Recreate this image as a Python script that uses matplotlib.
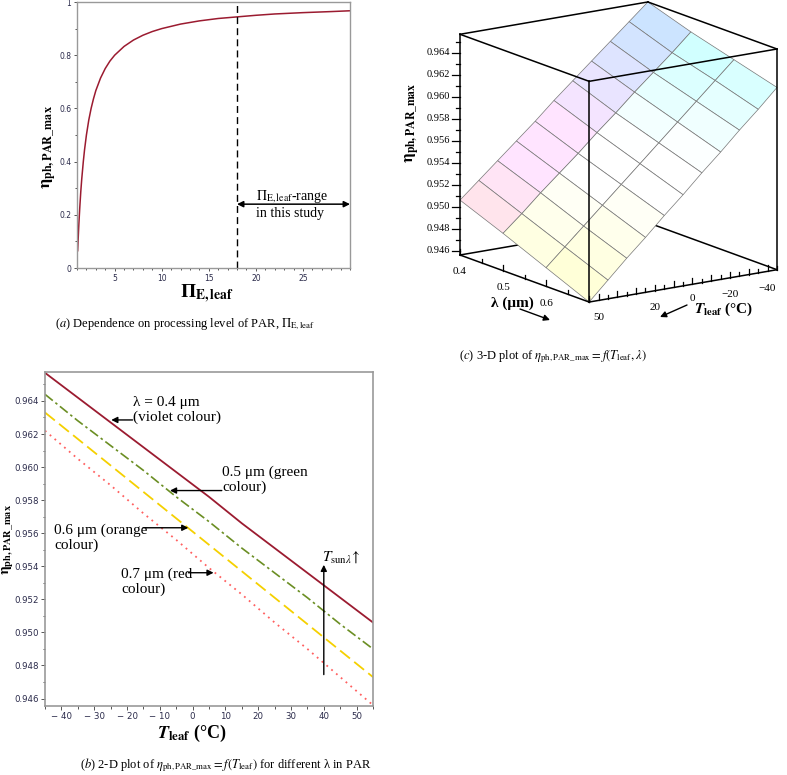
import matplotlib
matplotlib.use("Agg")
import matplotlib.pyplot as plt
import numpy as np
from matplotlib.ticker import MultipleLocator

plt.rcParams['font.family'] = ['Liberation Serif', 'DejaVu Serif']
plt.rcParams['mathtext.fontset'] = 'stix'

W, H = 787, 775

# (a) efficiency vs processing level of PAR
pi_e_leaf = [1.07, 1.1, 1.15, 1.2, 1.3, 1.4, 1.5, 1.67, 1.8, 2.0, 2.25, 2.5, 2.75,
             3.0, 3.5, 4.0, 4.5, 5.0, 6.0, 7.0, 8.0, 9.0, 10.0, 12.0, 14.0, 16.0,
             18.0, 20.0, 22.0, 25.0, 28.0, 30.0]
eta_pi = [0.065, 0.09, 0.13, 0.167, 0.23, 0.286, 0.333, 0.40, 0.444, 0.50, 0.556,
          0.60, 0.636, 0.667, 0.714, 0.75, 0.778, 0.80, 0.833, 0.857, 0.875, 0.889,
          0.90, 0.917, 0.929, 0.938, 0.944, 0.95, 0.955, 0.96, 0.964, 0.967]
pi_study = [18, 30]

# (b) and (c) efficiency vs leaf temperature for four wavelengths
t_leaf = [-45, -35, -25, -15, -5, 5, 15, 25, 35, 45, 55]
lam_um = [0.4, 0.5, 0.6, 0.7]
eta_l04 = [0.9657, 0.9642, 0.9627, 0.9612, 0.9597, 0.9582, 0.9566, 0.9551, 0.9536, 0.9521, 0.9506]
eta_l05 = [0.9644, 0.9628, 0.9613, 0.9598, 0.9582, 0.9567, 0.9551, 0.9536, 0.9521, 0.9505, 0.9490]
eta_l06 = [0.9633, 0.9617, 0.9601, 0.9585, 0.9569, 0.9553, 0.9537, 0.9521, 0.9505, 0.9489, 0.9473]
eta_l07 = [0.9622, 0.9605, 0.9589, 0.9572, 0.9556, 0.9539, 0.9523, 0.9506, 0.9490, 0.9473, 0.9456]

t_ticks = [-40, -30, -20, -10, 0, 10, 20, 30, 40, 50]
t_tick_labels = ['\u2212 40', '\u2212 30', '\u2212 20', '\u2212 10', '0', '10', '20', '30', '40', '50']
eta_ticks = [0.946, 0.948, 0.950, 0.952, 0.954, 0.956, 0.958, 0.960, 0.962, 0.964]

fig = plt.figure(figsize=(W / 100, H / 100), dpi=100)

tick_col = '#2a2a4a'
frame_col = '#999999'

# ---------------- (a)
ax_a = fig.add_axes([77 / W, 1 - 268 / H, 273 / W, 266 / H])
ax_a.plot(pi_e_leaf, eta_pi, color='#9b1b30', lw=1.1)
ax_a.axvline(pi_study[0], color='k', lw=1.0, ls=(0, (5, 3)))
ax_a.set_xlim(1, 30)
ax_a.set_ylim(0, 1)
ax_a.set_xticks([5, 10, 15, 20, 25])
ax_a.xaxis.set_minor_locator(MultipleLocator(1))
ax_a.set_yticks([0, 0.2, 0.4, 0.6, 0.8, 1])
ax_a.set_yticklabels(['0', '0.2', '0.4', '0.6', '0.8', '1'])
ax_a.yaxis.set_minor_locator(MultipleLocator(0.1))
ax_a.tick_params(which='both', labelsize=5.5, labelcolor=tick_col, color='#555555',
                 width=0.7, labelfontfamily='DejaVu Sans', pad=1.5)
ax_a.tick_params(which='major', length=2.5)
ax_a.tick_params(which='minor', length=1.5)
for sp in ax_a.spines.values():
    sp.set_color(frame_col)
    sp.set_linewidth(1.0)
ax_a.annotate('', xy=(pi_study[1], 0.24), xytext=(pi_study[0], 0.24),
              arrowprops=dict(arrowstyle='<|-|>', color='k', lw=1.1,
                              mutation_scale=9, shrinkA=0, shrinkB=0))
ax_a.text(23.85, 0.24, '$\\Pi_{\\mathrm{E,leaf}}$-range\nin this study', ha='center',
          va='center', multialignment='left', fontsize=10, linespacing=1.15)
ax_a.set_xlabel('$\\mathbf{\\Pi}_{\\mathbf{E,leaf}}$', fontsize=14)
ax_a.xaxis.set_label_coords((207 - 77) / 273, (268 - 294) / 266)
ax_a.xaxis.label.set_va('center')
ax_a.set_ylabel('$\\mathbf{\\eta}_{\\mathbf{ph,PAR\\_max}}$', fontsize=12.5)
ax_a.yaxis.set_label_coords((50 - 77) / 273, (268 - 147) / 266)
ax_a.yaxis.label.set_va('center')

# ---------------- (b)
ax_b = fig.add_axes([45 / W, 1 - 706 / H, 328 / W, 334 / H])
ax_b.plot(t_leaf, eta_l04, color='#9b1b30', lw=1.3)
ax_b.plot(t_leaf, eta_l05, color='#6b8e23', lw=1.2, ls=(0, (6, 2, 1.5, 2)))
ax_b.plot(t_leaf, eta_l06, color='#f5d000', lw=1.3, ls=(0, (7, 3)))
ax_b.plot(t_leaf, eta_l07, color='#ff6060', lw=1.3, ls=(0, (1, 2.5)))
ax_b.set_xlim(-45, 55)
ax_b.set_ylim(0.94555, 0.96575)
ax_b.set_xticks(t_ticks)
ax_b.set_xticklabels(t_tick_labels)
ax_b.xaxis.set_minor_locator(MultipleLocator(5))
ax_b.set_yticks(eta_ticks)
ax_b.set_yticklabels(['%.3f' % v for v in eta_ticks])
ax_b.yaxis.set_minor_locator(MultipleLocator(0.001))
ax_b.tick_params(which='both', labelsize=6.2, labelcolor=tick_col, color='#555555',
                 width=0.7, labelfontfamily='DejaVu Sans', pad=1.5)
ax_b.tick_params(which='major', length=3)
ax_b.tick_params(which='minor', length=1.8)
for sp in ax_b.spines.values():
    sp.set_color(frame_col)
    sp.set_linewidth(1.2)

arr = dict(arrowstyle='-|>', color='k', lw=1.0, mutation_scale=9, shrinkA=0, shrinkB=0)
ax_b.text(-18.1, 0.96346, '\u03bb = 0.4 \u03bcm\n(violet colour)', ha='left', va='center',
          fontsize=11, linespacing=1.15)
ax_b.annotate('', xy=(-24.8, 0.96285), xytext=(-18.3, 0.96285), arrowprops=arr)
ax_b.text(9.0, 0.95923, '0.5 \u03bcm (green\ncolour)', ha='left', va='center',
          fontsize=11, linespacing=1.15)
ax_b.annotate('', xy=(-6.9, 0.95858), xytext=(8.9, 0.95858), arrowprops=arr)
ax_b.text(-42.25, 0.95575, '0.6 \u03bcm (orange\ncolour)', ha='left', va='center',
          fontsize=11, linespacing=1.15)
ax_b.annotate('', xy=(-1.3, 0.95633), xytext=(-15.0, 0.95633), arrowprops=arr)
ax_b.text(-21.8, 0.95304, '0.7 \u03bcm (red\ncolour)', ha='left', va='center',
          fontsize=11, linespacing=1.15)
ax_b.annotate('', xy=(6.4, 0.95361), xytext=(-1.3, 0.95361), arrowprops=arr)
ax_b.annotate('', xy=(40, 0.95409), xytext=(40, 0.94745), arrowprops=arr)
ax_b.text(39.3, 0.95452, '$T_{\\mathrm{sun}\\lambda}\\!\\uparrow$', ha='left', va='center',
          fontsize=11)
ax_b.set_xlabel('$\\mathbfit{T}_{\\mathbf{leaf}}$ (\u00b0C)', fontsize=13, fontweight='bold')
ax_b.xaxis.set_label_coords((192 - 45) / 328, (706 - 733) / 334)
ax_b.xaxis.label.set_va('center')
ax_b.set_ylabel('$\\mathbf{\\eta}_{\\mathbf{ph,PAR\\_max}}$', fontsize=10.5)
ax_b.yaxis.set_label_coords((8 - 45) / 328, (706 - 540) / 334)
ax_b.yaxis.label.set_va('center')

# ---------------- (c)
z_lo, z_hi = min(eta_l07), max(eta_l04)
t0, t1 = min(t_leaf), max(t_leaf)
l0, l1 = min(lam_um), max(lam_um)

ax_c = fig.add_axes([0.5, 0.55, 0.42, 0.42], projection='3d')
ax_c.set_proj_type('ortho')
ax_c.view_init(elev=14.5, azim=55.5)
ax_c.set_box_aspect((1, 1, 1))
ax_c.set_xlim(t0, t1)
ax_c.set_ylim(l0, l1)
ax_c.set_zlim(z_lo, z_hi)
ax_c.set_axis_off()
ax_c.patch.set_visible(False)
ax_c.computed_zorder = False

Tg, Lg = np.meshgrid(t_leaf, lam_um)
Zg = np.array([eta_l04, eta_l05, eta_l06, eta_l07])
Zc = (Zg[:-1, :-1] + Zg[1:, :-1] + Zg[:-1, 1:] + Zg[1:, 1:]) / 4
Lc = (Lg[:-1, :-1] + Lg[1:, 1:]) / 2
u = (Lc - l0) / (l1 - l0)
w = (Zc - z_lo) / (z_hi - z_lo)
pink = np.clip(1 - u / 0.45, 0, 1)
cyan = np.clip((w - 0.55) / 0.35, 0, 1)
yel = np.clip((0.4 - w) / 0.35, 0, 1)
fc = np.ones(Zg.shape + (4,))
fc[:-1, :-1, 0] = 1 - 0.2 * cyan
fc[:-1, :-1, 1] = 1 - 0.17 * pink
fc[:-1, :-1, 2] = 1 - 0.17 * yel
ax_c.plot_surface(Tg, Lg, Zg, facecolors=fc, rstride=1, cstride=1, shade=False,
                  edgecolor='#777777', linewidth=0.5, zorder=2)

edges = []
for z in (z_lo, z_hi):
    edges += [((t0, l0, z), (t1, l0, z)), ((t0, l0, z), (t0, l1, z)),
              ((t1, l0, z), (t1, l1, z)), ((t0, l1, z), (t1, l1, z))]
for t in (t0, t1):
    for l in (l0, l1):
        edges.append(((t, l, z_lo), (t, l, z_hi)))
for p, q in edges:
    back_floor = p[2] == z_lo and q[2] == z_lo and (p[:2] == (t0, l0) or q[:2] == (t0, l0))
    back_vert = p[:2] == (t0, l0) and q[:2] == (t0, l0)
    ax_c.plot(*zip(p, q), color='k', lw=1.1, zorder=1 if (back_floor or back_vert) else 3)


def px3(t, l, z):
    M = ax_c.get_proj()
    v = M @ np.array([t, l, z, 1.0])
    d = ax_c.transData.transform((v[0] / v[3], v[1] / v[3]))
    return d[0], H - d[1]


# fit the projected box onto the reference location
fig.canvas.draw()
bb = ax_c.get_position()
x0, y0, w0 = bb.x0 * W, bb.y0 * H, bb.width * W
axp, ayp = px3(t1, l0, z_lo)
cxp, cyp = px3(t0, l1, z_lo)
s = (777 - 460) / (cxp - axp)
w1 = w0 * s
x1 = 460 - s * (axp - x0)
y1 = (H - 255) - s * ((H - ayp) - y0)
ax_c.set_position([x1 / W, y1 / H, w1 / W, w1 / H])
fig.canvas.draw()

ov = fig.add_axes([0, 0, 1, 1], zorder=10)
ov.set_xlim(0, W)
ov.set_ylim(H, 0)
ov.set_axis_off()

# z ticks on the left vertical edge
for k in range(946, 966):
    zv = k / 1000
    px, py = px3(t1, l0, zv)
    major = k % 2 == 0 and k <= 964
    ov.plot([px - (8 if major else 4), px], [py, py], color='k', lw=0.9)
    if major:
        ov.text(px - 10, py, '%.3f' % zv, ha='right', va='center', fontsize=7.5)
# lambda ticks along front-left floor edge
for k in range(8, 15):
    lv = k * 0.05
    px, py = px3(t1, lv, z_lo)
    ov.plot([px, px], [py, py - (6 if k % 2 == 0 else 4)], color='k', lw=0.9)
for lv in (0.4, 0.5, 0.6):
    px, py = px3(t1, lv, z_lo)
    ov.text(px, py + 17, '%.1f' % lv, ha='center', va='center', fontsize=8)
# T ticks along front-right floor edge
for tv in range(-45, 56, 5):
    px, py = px3(tv, l1, z_lo)
    ov.plot([px, px], [py, py - (6 if tv % 10 == 0 else 4)], color='k', lw=0.9)
for tv, lab in [(50, '50'), (20, '20'), (0, '0'), (-20, '\u221220'), (-40, '\u221240')]:
    px, py = px3(tv, l1, z_lo)
    ov.text(px, py + (14 if tv == 0 else 17), lab, ha='center', va='center', fontsize=8)

ov.text(413, 123, '$\\mathbf{\\eta}_{\\mathbf{ph,PAR\\_max}}$', rotation=90, ha='center',
        va='center', fontsize=12)
ov.text(512, 303, '\u03bb (\u03bcm)', ha='center', va='center', fontsize=11, fontweight='bold')
ov.annotate('', xy=(550, 320), xytext=(520, 309), arrowprops=arr)
ov.text(724, 309, '$\\mathbfit{T}_{\\mathbf{leaf}}$ (\u00b0C)', ha='center', va='center',
        fontsize=11, fontweight='bold')
ov.annotate('', xy=(660, 317), xytext=(687, 305), arrowprops=arr)

# captions
ov.text(185, 324, '($\\mathit{a}$) Dependence on processing level of PAR, $\\Pi_{\\mathrm{E,leaf}}$',
        ha='center', va='center', fontsize=9)
ov.text(226, 765, '($\\mathit{b}$) 2-D plot of $\\eta_{\\mathrm{ph,PAR\\_max}} = f(T_{\\mathrm{leaf}})$ '
        'for different \u03bb in PAR', ha='center', va='center', fontsize=9)
ov.text(553, 357, '($\\mathit{c}$) 3-D plot of $\\eta_{\\mathrm{ph,PAR\\_max}} = f(T_{\\mathrm{leaf}},\\lambda)$',
        ha='center', va='center', fontsize=9)

fig.savefig('out.png', dpi=100)
